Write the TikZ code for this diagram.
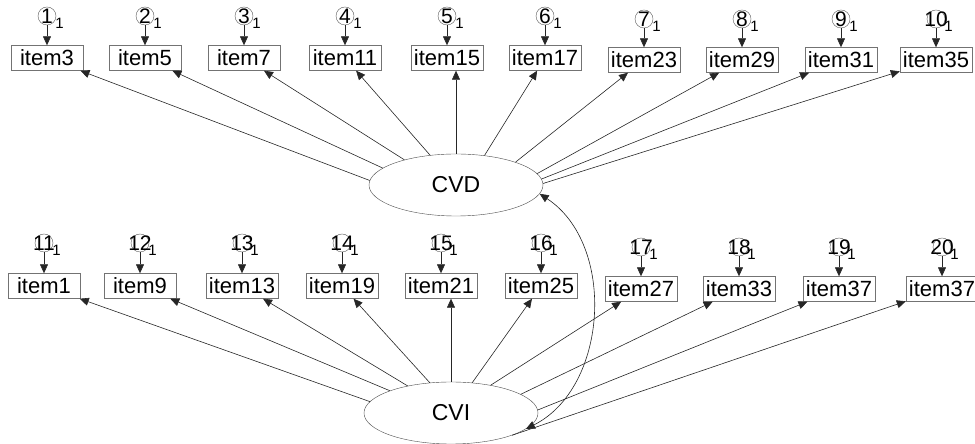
\documentclass[tikz,border=0pt]{standalone}
\usepackage{fontspec}
\setmainfont{Liberation Sans}
\usetikzlibrary{arrows.meta,shapes.geometric}
\tikzset{
	obsbox/.style={draw=black!55, minimum width=72pt, minimum height=25pt, inner sep=2pt, font=\fontsize{22}{24}\selectfont},
	latent/.style={ellipse, draw=black!70, minimum width=174pt, minimum height=62pt, inner sep=0pt, font=\fontsize{23}{26}\selectfont},
	errc/.style={circle, draw=black!65, minimum size=18pt, inner sep=0pt},
	errnum/.style={font=\fontsize{21}{21}\selectfont, inner sep=0pt},
	errsub/.style={font=\fontsize{15}{15}\selectfont, inner sep=0pt, anchor=west, xshift=-1pt, yshift=-7pt},
	loadarr/.style={draw=black!85, line width=0.6pt, -{Triangle[length=9pt,width=8pt]}},
	covarr/.style={draw=black!85, line width=0.6pt, {Triangle[length=9pt,width=8pt]}-{Triangle[length=9pt,width=8pt]}}
}

\begin{document}
\begin{tikzpicture}[x=1pt, y=1pt]
		%%%%% START %%%%%
		
		\useasboundingbox (0, 0) rectangle (975, 444);
		\clip (0, 0) rectangle (975, 444);
		
		\node[latent] (cvd) at (456, 259) {CVD};
		\node[latent] (cvi) at (451, 31) {CVI};
		
		% upper row
		\node[errc, label={[errnum]center:1}, label={[errsub]east:1}] (e1) at (47, 428) {};
		\node[errc, label={[errnum]center:2}, label={[errsub]east:1}] (e2) at (145, 428) {};
		\node[errc, label={[errnum]center:3}, label={[errsub]east:1}] (e3) at (244, 428) {};
		\node[errc, label={[errnum]center:4}, label={[errsub]east:1}] (e4) at (345, 428) {};
		\node[errc, label={[errnum]center:5}, label={[errsub]east:1}] (e5) at (447, 428) {};
		\node[errc, label={[errnum]center:6}, label={[errsub]east:1}] (e6) at (545, 428) {};
		\node[errc, label={[errnum]center:7}, label={[errsub]east:1}] (e7) at (644, 425) {};
		\node[errc, label={[errnum]center:8}, label={[errsub]east:1}] (e8) at (742, 425) {};
		\node[errc, label={[errnum]center:9}, label={[errsub]east:1}] (e9) at (841, 425) {};
		\node[errc, label={[errnum]center:10}, label={[errsub]east:1}] (e10) at (936, 425) {};
		
		\node[obsbox] (b1) at (47, 386) {item3};
		\node[obsbox] (b2) at (145, 386) {item5};
		\node[obsbox] (b3) at (244, 386) {item7};
		\node[obsbox] (b4) at (345, 386) {item11};
		\node[obsbox] (b5) at (447, 386) {item15};
		\node[obsbox] (b6) at (545, 386) {item17};
		\node[obsbox] (b7) at (644, 384) {item23};
		\node[obsbox] (b8) at (742, 384) {item29};
		\node[obsbox] (b9) at (841, 384) {item31};
		\node[obsbox] (b10) at (936, 384) {item35};
		
		% lower row
		\node[errc, label={[errnum]center:11}, label={[errsub]east:1}] (e11) at (44, 201) {};
		\node[errc, label={[errnum]center:12}, label={[errsub]east:1}] (e12) at (140, 201) {};
		\node[errc, label={[errnum]center:13}, label={[errsub]east:1}] (e13) at (242, 201) {};
		\node[errc, label={[errnum]center:14}, label={[errsub]east:1}] (e14) at (342, 201) {};
		\node[errc, label={[errnum]center:15}, label={[errsub]east:1}] (e15) at (441, 201) {};
		\node[errc, label={[errnum]center:16}, label={[errsub]east:1}] (e16) at (541, 201) {};
		\node[errc, label={[errnum]center:17}, label={[errsub]east:1}] (e17) at (641, 197) {};
		\node[errc, label={[errnum]center:18}, label={[errsub]east:1}] (e18) at (739, 197) {};
		\node[errc, label={[errnum]center:19}, label={[errsub]east:1}] (e19) at (839, 197) {};
		\node[errc, label={[errnum]center:20}, label={[errsub]east:1}] (e20) at (942, 197) {};
		
		\node[obsbox] (c1) at (44, 158) {item1};
		\node[obsbox] (c2) at (140, 158) {item9};
		\node[obsbox] (c3) at (242, 158) {item13};
		\node[obsbox] (c4) at (342, 158) {item19};
		\node[obsbox] (c5) at (441, 158) {item21};
		\node[obsbox] (c6) at (541, 158) {item25};
		\node[obsbox] (c7) at (641, 155) {item27};
		\node[obsbox] (c8) at (739, 155) {item33};
		\node[obsbox] (c9) at (839, 155) {item37};
		\node[obsbox] (c10) at (942, 155) {item37};
		
		% error arrows
		\draw[loadarr] (e1) -- (b1);
		\draw[loadarr] (e2) -- (b2);
		\draw[loadarr] (e3) -- (b3);
		\draw[loadarr] (e4) -- (b4);
		\draw[loadarr] (e5) -- (b5);
		\draw[loadarr] (e6) -- (b6);
		\draw[loadarr] (e7) -- (b7);
		\draw[loadarr] (e8) -- (b8);
		\draw[loadarr] (e9) -- (b9);
		\draw[loadarr] (e10) -- (b10);
		\draw[loadarr] (e11) -- (c1);
		\draw[loadarr] (e12) -- (c2);
		\draw[loadarr] (e13) -- (c3);
		\draw[loadarr] (e14) -- (c4);
		\draw[loadarr] (e15) -- (c5);
		\draw[loadarr] (e16) -- (c6);
		\draw[loadarr] (e17) -- (c7);
		\draw[loadarr] (e18) -- (c8);
		\draw[loadarr] (e19) -- (c9);
		\draw[loadarr] (e20) -- (c10);
		
		% loadings
		\draw[loadarr] (cvd.177) -- (b1);
		\draw[loadarr] (cvd.167) -- (b2);
		\draw[loadarr] (cvd.154) -- (b3);
		\draw[loadarr] (cvd.131) -- (b4);
		\draw[loadarr] (cvd.north) -- (cvd.north |- b5.south);
		\draw[loadarr] (cvd.46) -- (b6);
		\draw[loadarr] (cvd.21) -- (b7);
		\draw[loadarr] (cvd.8) -- (b8);
		\draw[loadarr] (cvd.4) -- (b9);
		\draw[loadarr] (cvd.1) -- (b10);
		
		\draw[loadarr] (cvi.172) -- (c1);
		\draw[loadarr] (cvi.160) -- (c2);
		\draw[loadarr] (cvi.148) -- (c3);
		\draw[loadarr] (cvi.125) -- (c4);
		\draw[loadarr] (cvi.north) -- (cvi.north |- c5.south);
		\draw[loadarr] (cvi.55) -- (c6);
		\draw[loadarr] (cvi.35) -- (c7);
		\draw[loadarr] (cvi.15) -- (c8);
		\draw[loadarr] (cvi.2) -- (c9);
		\draw[loadarr] (cvi.-20) -- (c10);
		
		\draw[covarr] (cvd.-6) to[bend left=60] (cvi.-12);
		
		%%%%% END %%%%%
\end{tikzpicture}
\end{document}
